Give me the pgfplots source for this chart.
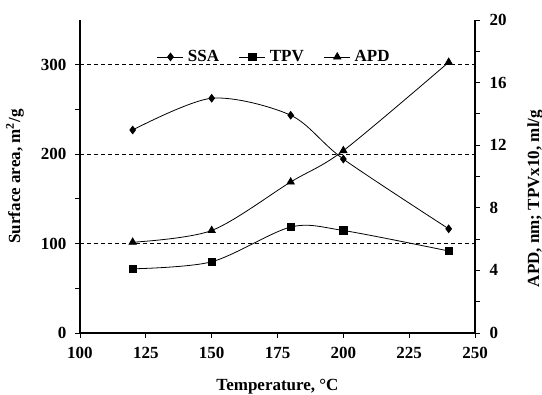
\documentclass[border=0pt]{standalone}
\usepackage{fontspec}
\setmainfont{Liberation Serif}
\usepackage{pgfplots}
\pgfplotsset{compat=1.18}
\begin{document}
\begin{tikzpicture}
\pgfplotsset{
  every axis/.append style={
    scale only axis, width=395pt, height=313pt,
    xmin=100, xmax=250,
    /pgf/number format/assume math mode=true,
    tick label style={font=\bfseries\fontsize{17}{19}\selectfont},
    label style={font=\bfseries\fontsize{17}{19}\selectfont},
    axis line style={line width=1.4pt},
    tick style={line width=0.9pt, black},
    tick align=outside,
    major tick length=5pt, minor tick length=5pt,
  },
}
\begin{axis}[
  axis x line*=bottom, axis y line*=left,
  ymin=0, ymax=350,
  ytick={0,100,200,300}, minor ytick={50,150,250},
  xtick={100,125,...,250},
  xticklabel style={yshift=-6pt},
  yticklabel style={xshift=-5pt},
  ymajorgrids, grid style={black, line width=0.7pt, dash pattern=on 4pt off 3pt},
  xlabel={Temperature, \textdegree C},
  ylabel={Surface area, m\textsuperscript{2}/g},
  xlabel style={at={(rel axis cs:0.5,0)}, anchor=center, yshift=-54pt},
  ylabel style={at={(rel axis cs:0,0.5)}, anchor=center, yshift=65pt},
  legend columns=3,
  legend style={draw=none, fill=none, at={(0.492,0.882)}, anchor=center,
    font=\bfseries\fontsize{17}{19}\selectfont,
    /tikz/every even column/.append style={column sep=18pt},
    /tikz/every odd column/.append style={column sep=2pt}},
  legend image code/.code={\draw[#1, mark repeat=2, mark phase=2] plot coordinates {(0pt,0pt) (13pt,0pt) (26pt,0pt)};},
]
\coordinate (bl) at (rel axis cs:0,0);
\coordinate (tr) at (rel axis cs:1,1);
\addplot[black, line width=0.8pt, smooth, tension=0.5, mark=diamond*, mark size=3.8pt, mark options={solid}]
  coordinates {(120,227) (150,262.5) (180,243.5) (200,194.5) (240,116.5)};
\addlegendentry{SSA}
\addlegendimage{black, line width=0.8pt, mark=square*, mark size=3.6pt}
\addlegendentry{TPV}
\addlegendimage{black, line width=0.8pt, mark=triangle*, mark size=4.2pt}
\addlegendentry{APD}
\end{axis}
\begin{axis}[
  axis x line=none, axis y line*=right,
  ymin=0, ymax=20,
  ytick={0,4,...,20}, minor ytick={2,6,...,18},
  yticklabel style={xshift=6pt},
  ylabel={APD, nm; TPVx10, ml/g},
  ylabel style={at={(rel axis cs:1,0.5)}, anchor=center, yshift=-60pt, xshift=-22pt},
]
\addplot[black, line width=0.8pt, smooth, tension=0.5, mark=square*, mark size=3.6pt]
  coordinates {(120,4.1) (150,4.55) (180,6.77) (200,6.55) (240,5.24)};
\addplot[black, line width=0.8pt, smooth, tension=0.5, mark=triangle*, mark size=4.2pt]
  coordinates {(120,5.8) (150,6.55) (180,9.65) (200,11.65) (240,17.3)};
\end{axis}
\pgfresetboundingbox
\path ([xshift=-80pt,yshift=-62pt]bl) rectangle ([xshift=67pt,yshift=20pt]tr);
\end{tikzpicture}
\end{document}
